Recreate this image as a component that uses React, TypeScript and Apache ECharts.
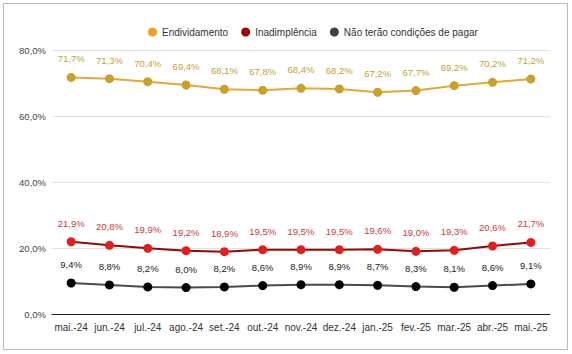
import React, { useEffect, useRef } from "react";
import * as echarts from "echarts";

const categories = ["mai.-24","jun.-24","jul.-24","ago.-24","set.-24","out.-24","nov.-24","dez.-24","jan.-25","fev.-25","mar.-25","abr.-25","mai.-25"];
const endividamento = [71.7,71.3,70.4,69.4,68.1,67.8,68.4,68.2,67.2,67.7,69.2,70.2,71.2];
const inadimplencia = [21.9,20.8,19.9,19.2,18.9,19.5,19.5,19.5,19.6,19.0,19.3,20.6,21.7];
const naoPagar = [9.4,8.8,8.2,8.0,8.2,8.6,8.9,8.9,8.7,8.3,8.1,8.6,9.1];
const seriesNames = ["Endividamento","Inadimplência","Não terão condições de pagar"];

const fmt = (v: number) => v.toFixed(1).replace(".", ",") + "%";

export default function App() {
  const ref = useRef<HTMLDivElement>(null);
  useEffect(() => {
    document.body.style.margin = "0";
    const chart = echarts.init(ref.current!, null, { renderer: "svg" });
    const font = "Arial, 'Liberation Sans', sans-serif";
    const mk = (name: string, data: number[], line: string, marker: string, label: string) => ({
      name,
      type: "line",
      data,
      symbol: "circle",
      symbolSize: 9,
      lineStyle: { color: line, width: 2 },
      itemStyle: { color: marker },
      label: {
        show: true,
        position: "top",
        distance: 9,
        formatter: (p: any) => fmt(p.value),
        color: label,
        fontSize: 9.5,
        fontFamily: font,
      },
    });
    chart.setOption({
      animation: false,
      backgroundColor: "#fff",
      graphic: [
        { type: "rect", shape: { x: 3.5, y: 3.5, width: 564, height: 346 }, style: { fill: "none", stroke: "#b8b8b8", lineWidth: 1 }, silent: true },
      ],
      legend: {
        top: 22,
        left: 143,
        itemWidth: 9,
        itemHeight: 9,
        itemGap: 13,
        icon: "circle",
        textStyle: { fontSize: 10, color: "#333", fontFamily: font },
        data: [
          { name: seriesNames[0], itemStyle: { color: "#EFA21E" } },
          { name: seriesNames[1], itemStyle: { color: "#9C0606" } },
          { name: seriesNames[2], itemStyle: { color: "#404040" } },
        ],
      },
      grid: { left: 52, right: 22, top: 50, bottom: 40 },
      xAxis: [
        {
          type: "category",
          data: categories,
          boundaryGap: true,
          axisLine: { lineStyle: { color: "#222", width: 1 } },
          axisTick: { alignWithLabel: true, length: 5, lineStyle: { color: "#222" } },
          axisLabel: { color: "#333", fontSize: 10, fontFamily: font, margin: 8, interval: 0 },
        },
        {
          type: "category",
          data: categories,
          position: "bottom",
          boundaryGap: true,
          axisLine: { show: false },
          axisTick: { alignWithLabel: true, inside: true, length: 5, lineStyle: { color: "#222" } },
          axisLabel: { show: false },
        },
      ],
      yAxis: {
        type: "value",
        min: 0,
        max: 80,
        interval: 20,
        axisLine: { show: false },
        axisTick: { show: false },
        splitLine: { lineStyle: { color: "#e2e2e2" } },
        axisLabel: { color: "#444", fontSize: 9.5, fontFamily: font, formatter: (v: number) => fmt(v), margin: 6 },
      },
      series: [
        mk(seriesNames[0], endividamento, "#E3A73A", "#C9A02C", "#BFA136"),
        mk(seriesNames[1], inadimplencia, "#8E0B0B", "#E01F1F", "#D0383C"),
        mk(seriesNames[2], naoPagar, "#4a4a4a", "#000000", "#222"),
      ],
    });
    return () => chart.dispose();
  }, []);
  return <div ref={ref} style={{ width: 572, height: 354 }} />;
}
